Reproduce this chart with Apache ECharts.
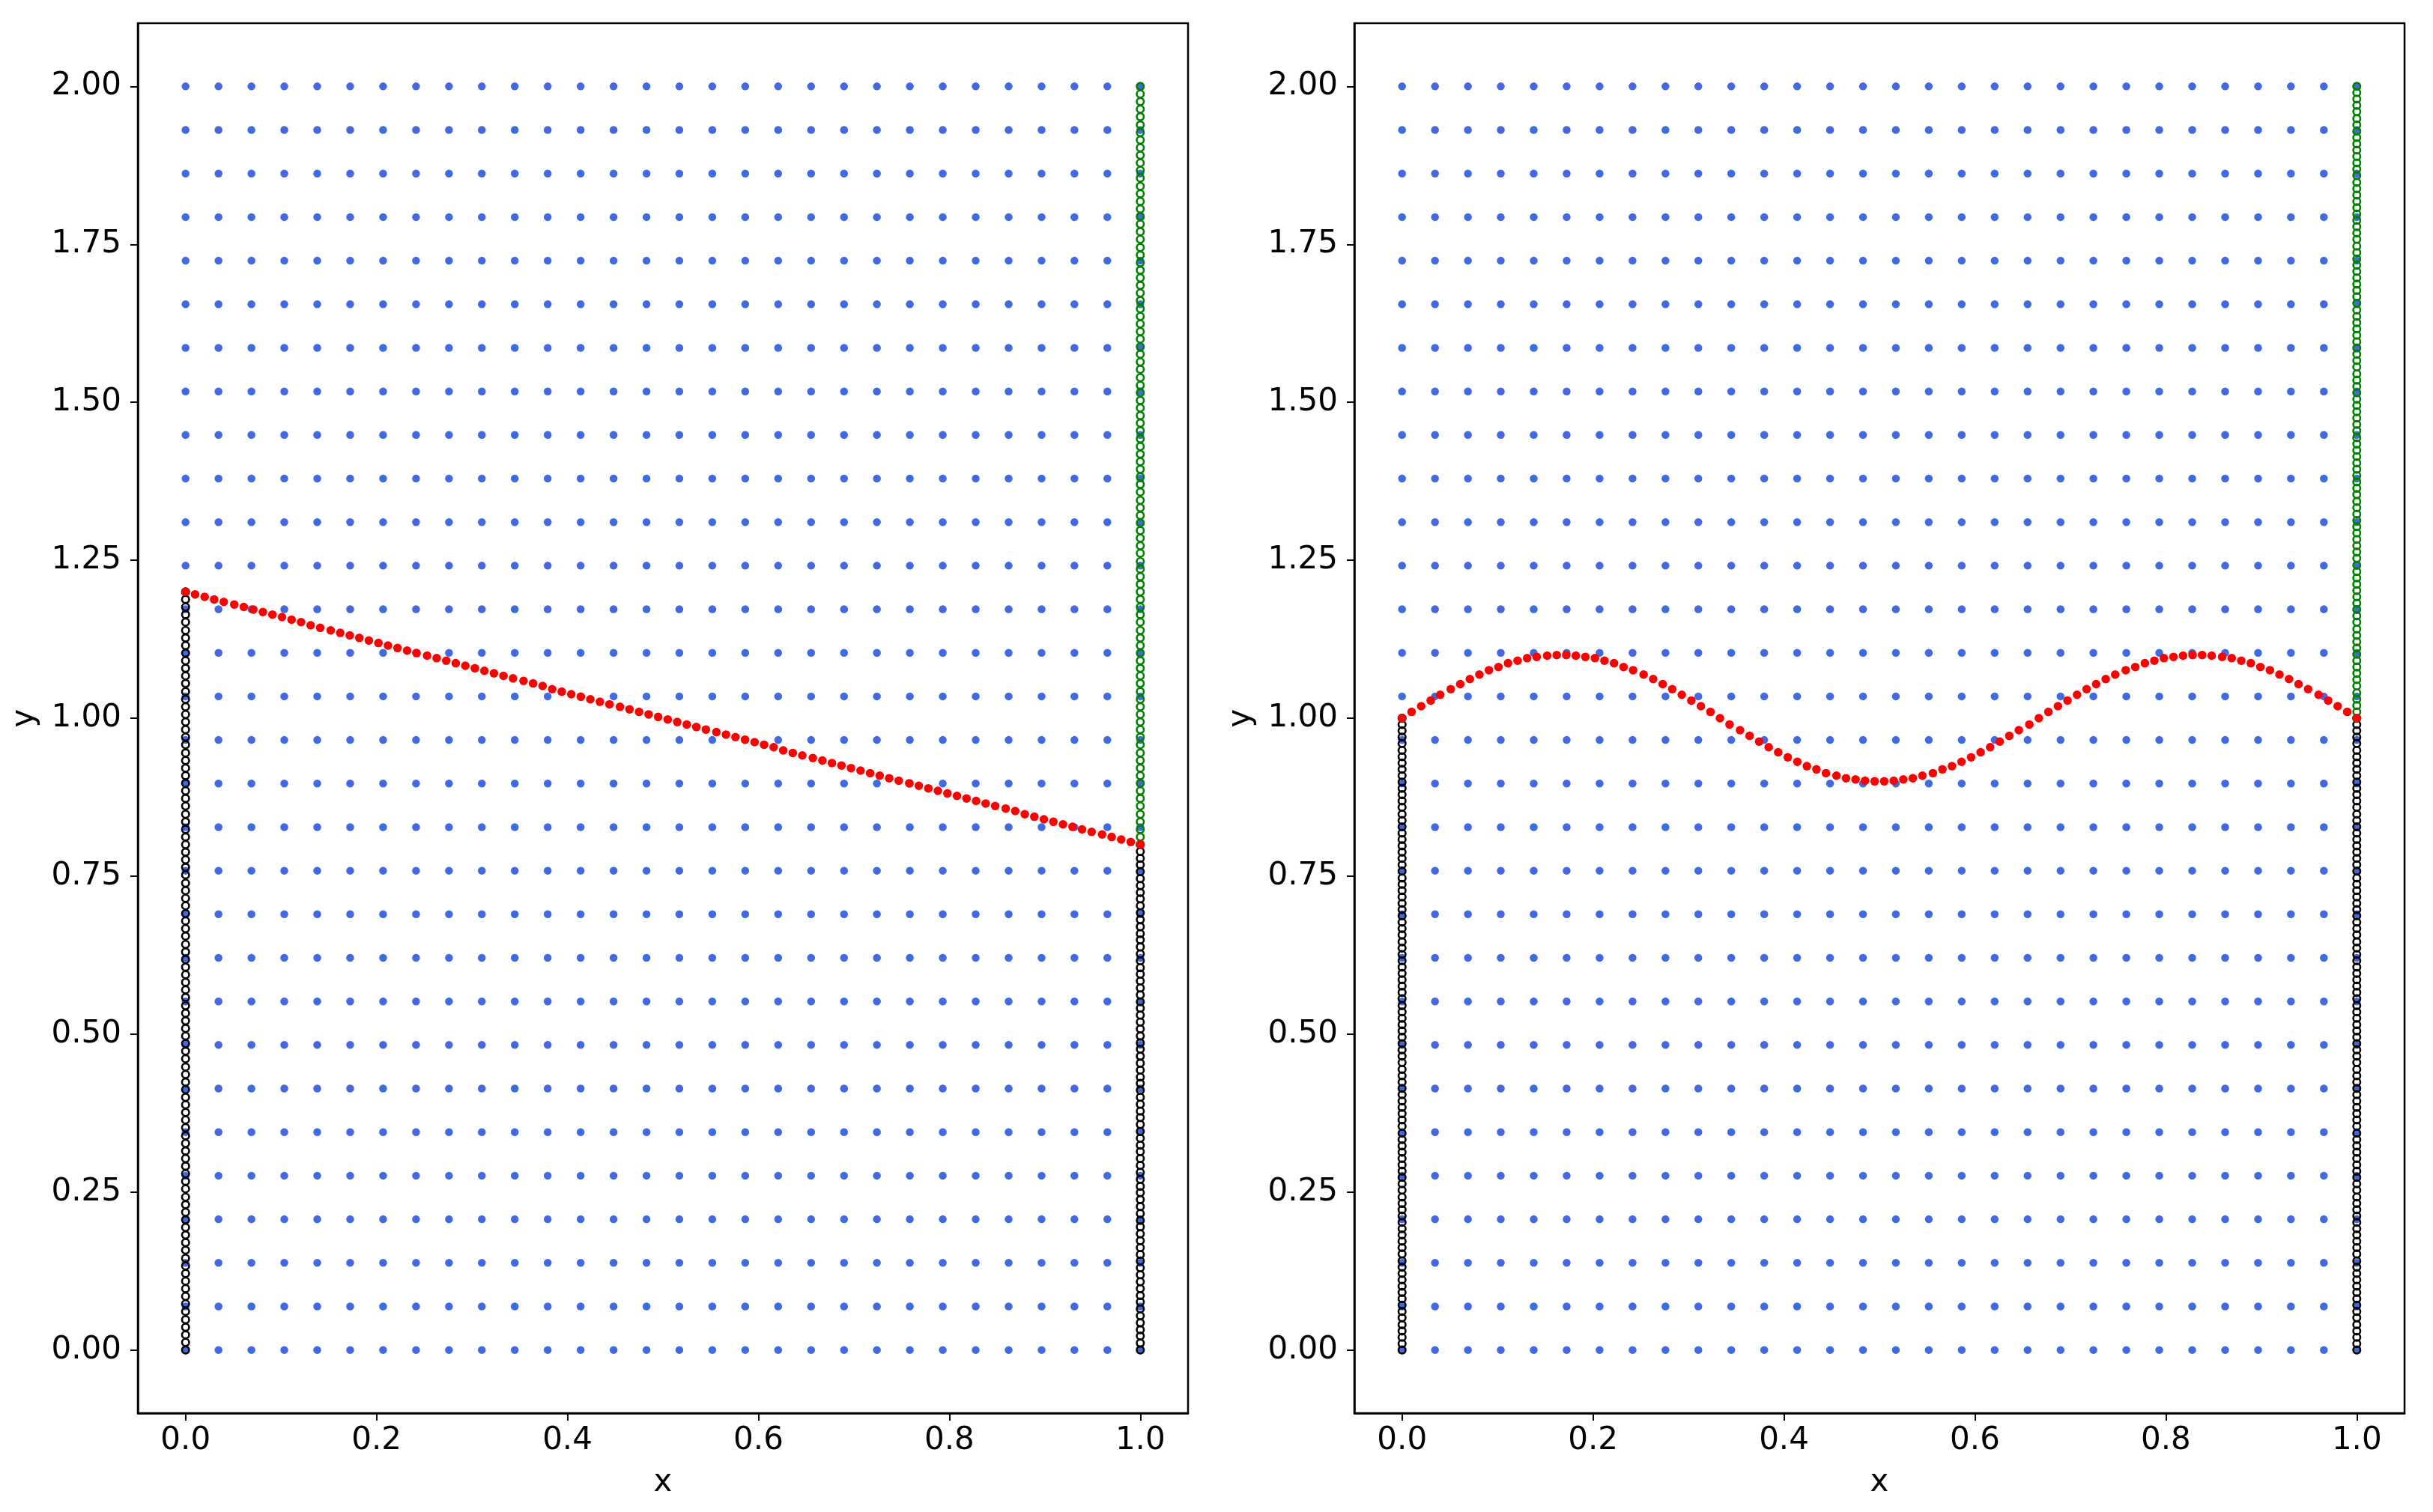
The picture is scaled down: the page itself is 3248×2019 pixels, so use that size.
<!DOCTYPE html>
<html>
<head>
<meta charset="utf-8">
<script src="https://cdn.jsdelivr.net/npm/echarts@6/dist/echarts.min.js"></script>
<style>
html,body{margin:0;padding:0;background:#fff;}
#chart{width:3248px;height:2019px;}
</style>
</head>
<body>
<div id="chart"></div>
<script>
// ---------- data ----------
// interior collocation grid (blue), same in both panels
var gridX = [0, 0.0345, 0.069, 0.1034, 0.1379, 0.1724, 0.2069, 0.2414, 0.2759, 0.3103, 0.3448, 0.3793, 0.4138, 0.4483, 0.4828, 0.5172, 0.5517, 0.5862, 0.6207, 0.6552, 0.6897, 0.7241, 0.7586, 0.7931, 0.8276, 0.8621, 0.8966, 0.931, 0.9655, 1];
var gridY = [0, 0.069, 0.1379, 0.2069, 0.2759, 0.3448, 0.4138, 0.4828, 0.5517, 0.6207, 0.6897, 0.7586, 0.8276, 0.8966, 0.9655, 1.0345, 1.1034, 1.1724, 1.2414, 1.3103, 1.3793, 1.4483, 1.5172, 1.5862, 1.6552, 1.7241, 1.7931, 1.8621, 1.931, 2];

// x positions of the red free-surface points (both panels)
var surfaceX = [0, .010, .020, .030, .040, .051, .061, .071, .081, .091, .101, .111, .121, .131, .141, .152, .162, .172, .182, .192, .202, .212, .222, .232, .242, .253, .263, .273, .283, .293, .303, .313, .323, .333, .343, .354, .364, .374, .384, .394, .404, .414, .424, .434, .444, .455, .465, .475, .485, .495, .505, .515, .525, .535, .545, .556, .566, .576, .586, .596, .606, .616, .626, .636, .646, .657, .667, .677, .687, .697, .707, .717, .727, .737, .747, .758, .768, .778, .788, .798, .808, .818, .828, .838, .848, .859, .869, .879, .889, .899, .909, .919, .929, .939, .949, .960, .970, .980, .990, 1];

// left panel: red surface heights
var surfaceYLeft = [1.2, 1.196, 1.192, 1.188, 1.184, 1.180, 1.176, 1.172, 1.168, 1.164, 1.160, 1.156, 1.152, 1.147, 1.143, 1.139, 1.135, 1.131, 1.127, 1.123, 1.119, 1.115, 1.111, 1.107, 1.103, 1.099, 1.095, 1.091, 1.087, 1.083, 1.079, 1.075, 1.071, 1.067, 1.063, 1.059, 1.055, 1.051, 1.046, 1.042, 1.038, 1.034, 1.030, 1.026, 1.022, 1.018, 1.014, 1.010, 1.006, 1.002, .998, .994, .990, .986, .982, .978, .974, .970, .966, .962, .958, .954, .949, .945, .941, .937, .933, .929, .925, .921, .917, .913, .909, .905, .901, .897, .893, .889, .885, .881, .877, .873, .869, .865, .861, .857, .853, .848, .844, .840, .836, .832, .828, .824, .820, .816, .812, .808, .804, .8];
// right panel: red surface heights
var surfaceYRight = [1.000, 1.010, 1.019, 1.028, 1.037, 1.046, 1.054, 1.062, 1.069, 1.076, 1.081, 1.087, 1.091, 1.095, 1.097, 1.099, 1.100,
  1.100, 1.099, 1.097, 1.095, 1.091, 1.087, 1.081, 1.076, 1.069, 1.062, 1.054, 1.046, 1.037, 1.028, 1.019, 1.010, 1.000,
  .990, .981, .972, .963, .954, .946, .938, .931, .924, .919, .913, .909, .905, .903, .901, .900,
  .900, .901, .903, .905, .909, .913, .919, .924, .931, .938, .946, .954, .963, .972, .981, .990, 1.000,
  1.010, 1.019, 1.028, 1.037, 1.046, 1.054, 1.062, 1.069, 1.076, 1.081, 1.087, 1.091, 1.095, 1.097, 1.099, 1.100,
  1.100, 1.099, 1.097, 1.095, 1.091, 1.087, 1.081, 1.076, 1.069, 1.062, 1.054, 1.046, 1.037, 1.028, 1.019, 1.010, 1.000];

// left panel walls
var leftWallYA = [0, .012, .024, .036, .048, .061, .073, .085, .097, .109, .121, .133, .145, .158, .170, .182, .194, .206, .218, .230, .242, .255, .267, .279, .291, .303, .315, .327, .339, .352, .364, .376, .388, .400, .412, .424, .436, .448, .461, .473, .485, .497, .509, .521, .533, .545, .558, .570, .582, .594, .606, .618, .630, .642, .655, .667, .679, .691, .703, .715, .727, .739, .752, .764, .776, .788, .800, .812, .824, .836, .848, .861, .873, .885, .897, .909, .921, .933, .945, .958, .970, .982, .994, 1.006, 1.018, 1.030, 1.042, 1.055, 1.067, 1.079, 1.091, 1.103, 1.115, 1.127, 1.139, 1.152, 1.164, 1.176, 1.188, 1.2];
var rightWallLowYA = [0, .011, .022, .032, .043, .054, .065, .076, .086, .097, .108, .119, .130, .141, .151, .162, .173, .184, .195, .205, .216, .227, .238, .249, .259, .270, .281, .292, .303, .314, .324, .335, .346, .357, .368, .378, .389, .400, .411, .422, .432, .443, .454, .465, .476, .486, .497, .508, .519, .530, .541, .551, .562, .573, .584, .595, .605, .616, .627, .638, .649, .659, .670, .681, .692, .703, .714, .724, .735, .746, .757, .768, .778, .789, .8];
var rightWallHighYA = [.8, .812, .824, .836, .848, .861, .873, .885, .897, .909, .921, .933, .945, .958, .970, .982, .994, 1.006, 1.018, 1.030, 1.042, 1.055, 1.067, 1.079, 1.091, 1.103, 1.115, 1.127, 1.139, 1.152, 1.164, 1.176, 1.188, 1.2, 1.212, 1.224, 1.236, 1.248, 1.261, 1.273, 1.285, 1.297, 1.309, 1.321, 1.333, 1.345, 1.358, 1.370, 1.382, 1.394, 1.406, 1.418, 1.430, 1.442, 1.455, 1.467, 1.479, 1.491, 1.503, 1.515, 1.527, 1.539, 1.552, 1.564, 1.576, 1.588, 1.600, 1.612, 1.624, 1.636, 1.648, 1.661, 1.673, 1.685, 1.697, 1.709, 1.721, 1.733, 1.745, 1.758, 1.770, 1.782, 1.794, 1.806, 1.818, 1.830, 1.842, 1.855, 1.867, 1.879, 1.891, 1.903, 1.915, 1.927, 1.939, 1.952, 1.964, 1.976, 1.988, 2.0];

// right panel walls
var leftWallYB = [0, .010, .020, .030, .040, .051, .061, .071, .081, .091, .101, .111, .121, .131, .141, .152, .162, .172, .182, .192, .202, .212, .222, .232, .242, .253, .263, .273, .283, .293, .303, .313, .323, .333, .343, .354, .364, .374, .384, .394, .404, .414, .424, .434, .444, .455, .465, .475, .485, .495, .505, .515, .525, .535, .545, .556, .566, .576, .586, .596, .606, .616, .626, .636, .646, .657, .667, .677, .687, .697, .707, .717, .727, .737, .747, .758, .768, .778, .788, .798, .808, .818, .828, .838, .848, .859, .869, .879, .889, .899, .909, .919, .929, .939, .949, .960, .970, .980, .990, 1];
var rightWallLowYB = [0, .010, .020, .030, .040, .051, .061, .071, .081, .091, .101, .111, .121, .131, .141, .152, .162, .172, .182, .192, .202, .212, .222, .232, .242, .253, .263, .273, .283, .293, .303, .313, .323, .333, .343, .354, .364, .374, .384, .394, .404, .414, .424, .434, .444, .455, .465, .475, .485, .495, .505, .515, .525, .535, .545, .556, .566, .576, .586, .596, .606, .616, .626, .636, .646, .657, .667, .677, .687, .697, .707, .717, .727, .737, .747, .758, .768, .778, .788, .798, .808, .818, .828, .838, .848, .859, .869, .879, .889, .899, .909, .919, .929, .939, .949, .960, .970, .980, .990, 1];
var rightWallHighYB = [1, 1.010, 1.020, 1.030, 1.040, 1.051, 1.061, 1.071, 1.081, 1.091, 1.101, 1.111, 1.121, 1.131, 1.141, 1.152, 1.162, 1.172, 1.182, 1.192, 1.202, 1.212, 1.222, 1.232, 1.242, 1.253, 1.263, 1.273, 1.283, 1.293, 1.303, 1.313, 1.323, 1.333, 1.343, 1.354, 1.364, 1.374, 1.384, 1.394, 1.404, 1.414, 1.424, 1.434, 1.444, 1.455, 1.465, 1.475, 1.485, 1.495, 1.505, 1.515, 1.525, 1.535, 1.545, 1.556, 1.566, 1.576, 1.586, 1.596, 1.606, 1.616, 1.626, 1.636, 1.646, 1.657, 1.667, 1.677, 1.687, 1.697, 1.707, 1.717, 1.727, 1.737, 1.747, 1.758, 1.768, 1.778, 1.788, 1.798, 1.808, 1.818, 1.828, 1.838, 1.848, 1.859, 1.869, 1.879, 1.889, 1.899, 1.909, 1.919, 1.929, 1.939, 1.949, 1.960, 1.970, 1.980, 1.990, 2];

var wallXLeft = 0;
var wallXRight = 1;

var xTicks = [0, 0.2, 0.4, 0.6, 0.8, 1.0];
var yTicks = [0, 0.25, 0.5, 0.75, 1.0, 1.25, 1.5, 1.75, 2.0];

// ---------- build ----------
function gridPoints() {
  var pts = [];
  for (var j = 0; j < gridY.length; j++)
    for (var i = 0; i < gridX.length; i++) pts.push([gridX[i], gridY[j]]);
  return pts;
}
function wall(x, ys) { return ys.map(function (y) { return [x, y]; }); }
function zip(xs, ys) { return xs.map(function (x, i) { return [x, ys[i]]; }); }

var FONT = 'DejaVu Sans';
var FS = 42;
var panels = [
  {left: 184, walls: [[wallXLeft, leftWallYA, '#000000'], [wallXRight, rightWallLowYA, '#000000'], [wallXRight, rightWallHighYA, '#008000']], surfY: surfaceYLeft},
  {left: 1808, walls: [[wallXLeft, leftWallYB, '#000000'], [wallXRight, rightWallLowYB, '#000000'], [wallXRight, rightWallHighYB, '#008000']], surfY: surfaceYRight}
];

var grids = [], xAxes = [], yAxes = [], series = [];
panels.forEach(function (p, k) {
  grids.push({left: p.left, top: 31, width: 1402, height: 1856, show: true, borderColor: '#000', borderWidth: 2.5, backgroundColor: '#fff'});
  xAxes.push({
    type: 'value', gridIndex: k, min: -0.05, max: 1.05,
    name: 'x', nameLocation: 'middle', nameGap: 72,
    nameTextStyle: {fontFamily: FONT, fontSize: FS, color: '#000'},
    axisLine: {show: true, onZero: false, lineStyle: {color: '#000', width: 2.5}},
    axisTick: {show: true, length: 10, lineStyle: {color: '#000', width: 2}, customValues: xTicks},
    axisLabel: {customValues: xTicks, margin: 16, fontFamily: FONT, fontSize: FS, color: '#000',
      formatter: function (v) { return Number(v).toFixed(1); }},
    splitLine: {show: false}
  });
  yAxes.push({
    type: 'value', gridIndex: k, min: -0.1, max: 2.1,
    name: 'y', nameLocation: 'middle', nameGap: 130, nameRotate: 90,
    nameTextStyle: {fontFamily: FONT, fontSize: FS, color: '#000'},
    axisLine: {show: true, onZero: false, lineStyle: {color: '#000', width: 2.5}},
    axisTick: {show: true, length: 10, lineStyle: {color: '#000', width: 2}, customValues: yTicks},
    axisLabel: {customValues: yTicks, margin: 22, fontFamily: FONT, fontSize: FS, color: '#000',
      formatter: function (v) { return Number(v).toFixed(2); }},
    splitLine: {show: false}
  });
  series.push({type: 'scatter', xAxisIndex: k, yAxisIndex: k, data: gridPoints(), symbolSize: 10.5,
    itemStyle: {color: '#4169E1', opacity: 1}, silent: true});
  p.walls.forEach(function (w) {
    series.push({type: 'scatter', xAxisIndex: k, yAxisIndex: k, data: wall(w[0], w[1]), symbolSize: 9.5,
      itemStyle: {color: 'rgba(0,0,0,0)', borderColor: w[2], borderWidth: 2.6, opacity: 1}, silent: true});
  });
  series.push({type: 'scatter', xAxisIndex: k, yAxisIndex: k, data: zip(surfaceX, p.surfY), symbolSize: 11.5,
    itemStyle: {color: '#FF0000', opacity: 1}, silent: true});
});

var chart = echarts.init(document.getElementById('chart'), null, {renderer: 'canvas'});
chart.setOption({
  animation: false,
  backgroundColor: '#fff',
  grid: grids, xAxis: xAxes, yAxis: yAxes, series: series
});
</script>
</body>
</html>
